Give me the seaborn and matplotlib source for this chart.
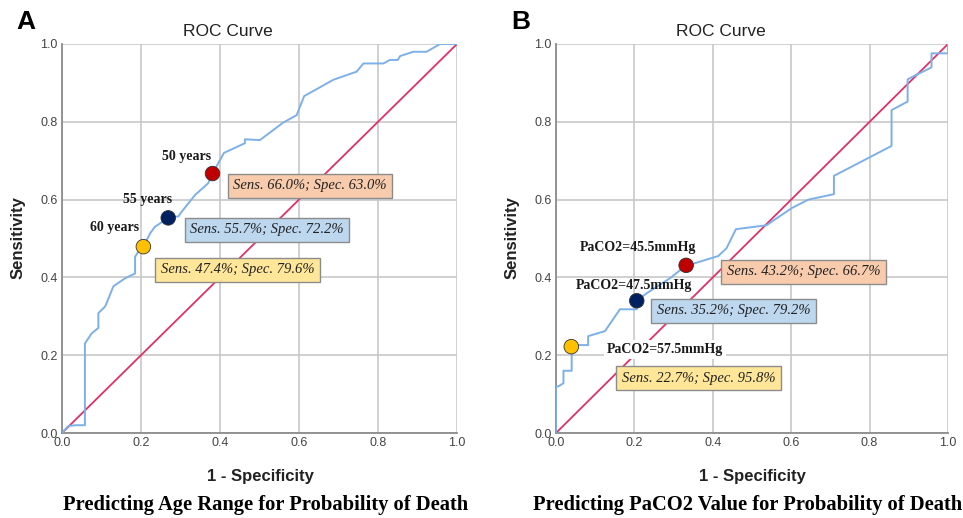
import numpy as np
import pandas as pd
import matplotlib
matplotlib.use("Agg")
import matplotlib.pyplot as plt
import seaborn as sns

# ---- data ----
age_fpr = [0.0, 0.016, 0.033, 0.058, 0.058, 0.075, 0.092, 0.092, 0.109, 0.113, 0.13, 0.16, 0.185,
           0.185, 0.193, 0.206, 0.223, 0.235, 0.269, 0.295, 0.30, 0.337, 0.37, 0.381, 0.41, 0.463,
           0.463, 0.501, 0.56, 0.594, 0.613, 0.687, 0.746, 0.763, 0.814, 0.83, 0.85, 0.856, 0.889,
           0.923, 0.957, 1.0]
age_tpr = [0.0, 0.018, 0.02, 0.02, 0.23, 0.256, 0.27, 0.308, 0.325, 0.334, 0.377, 0.398, 0.41,
           0.453, 0.466, 0.479, 0.513, 0.53, 0.553, 0.557, 0.565, 0.612, 0.642, 0.667, 0.72, 0.745,
           0.755, 0.753, 0.798, 0.817, 0.866, 0.908, 0.929, 0.95, 0.95, 0.959, 0.959, 0.969, 0.98,
           0.98, 1.0, 1.0]

pco2_fpr = [0.0, 0.0, 0.006, 0.019, 0.019, 0.031, 0.04, 0.04, 0.048, 0.082, 0.082, 0.125, 0.163,
            0.206, 0.206, 0.231, 0.291, 0.332, 0.359, 0.414, 0.435, 0.459, 0.537, 0.601, 0.644,
            0.709, 0.709, 0.856, 0.856, 0.897, 0.897, 0.912, 0.958, 0.958, 1.0, 1.0]
pco2_tpr = [0.0, 0.119, 0.12, 0.128, 0.16, 0.16, 0.16, 0.222, 0.226, 0.226, 0.249, 0.262, 0.318,
            0.318, 0.34, 0.359, 0.398, 0.431, 0.438, 0.455, 0.475, 0.524, 0.534, 0.578, 0.60,
            0.614, 0.661, 0.738, 0.83, 0.852, 0.909, 0.917, 0.94, 0.976, 0.976, 1.0]

age_cut_labels = ["50 years", "55 years", "60 years"]
age_cut_fpr = [0.381, 0.269, 0.206]
age_cut_tpr = [0.667, 0.553, 0.479]
age_box_text = ["Sens. 66.0%; Spec. 63.0%", "Sens. 55.7%; Spec. 72.2%", "Sens. 47.4%; Spec. 79.6%"]

pco2_cut_labels = ["PaCO2=45.5mmHg", "PaCO2=47.5mmHg", "PaCO2=57.5mmHg"]
pco2_cut_fpr = [0.332, 0.206, 0.039]
pco2_cut_tpr = [0.431, 0.34, 0.222]
pco2_box_text = ["Sens. 43.2%; Spec. 66.7%", "Sens. 35.2%; Spec. 79.2%", "Sens. 22.7%; Spec. 95.8%"]

ticks = [0.0, 0.2, 0.4, 0.6, 0.8, 1.0]
tick_labels = ["0.0", "0.2", "0.4", "0.6", "0.8", "1.0"]

# ---- style ----
sns.set_theme(style="whitegrid")
plt.rcParams['font.family'] = ['Liberation Sans', 'DejaVu Sans']

W, H = 963, 518
fig = plt.figure(figsize=(W / 100, H / 100), dpi=100)
fig.patch.set_facecolor("white")

def px(x, y):
    return x / W, 1 - y / H

dot_colors = ["#C00000", "#002060", "#FFC000"]
box_colors = ["#F8CBAD", "#BDD7EE", "#FFE699"]
curve_color = "#7DB0E8"
diag_color = "#E0306A"

def make_panel(left_px, right_px, fpr, tpr, cut_fpr, cut_tpr, cut_labels, label_pos,
               box_text, box_pos, label_bg):
    l, b = px(left_px, 433)
    r, t = px(right_px, 44)
    ax = fig.add_axes([l, b, r - l, t - b])
    ax.set_facecolor("white")
    df = pd.DataFrame({"fpr": fpr, "tpr": tpr})
    sns.lineplot(data=df, x="fpr", y="tpr", sort=False, estimator=None,
                 color=curve_color, lw=1.4, ax=ax, zorder=3)
    dg = pd.DataFrame({"x": [0.0, 1.0], "y": [0.0, 1.0]})
    sns.lineplot(data=dg, x="x", y="y", color=diag_color, lw=1.3, ax=ax, zorder=2)
    dd = pd.DataFrame({"x": cut_fpr, "y": cut_tpr, "c": cut_labels})
    sns.scatterplot(data=dd, x="x", y="y", hue="c", palette=dot_colors, s=110,
                    edgecolor="#333333", linewidth=0.6, ax=ax, zorder=7, legend=False)
    ax.set_xlim(0, 1)
    ax.set_ylim(0, 1)
    ax.set_xticks(ticks)
    ax.set_yticks(ticks)
    ax.set_xticklabels(tick_labels)
    ax.set_yticklabels(tick_labels)
    ax.tick_params(axis="both", labelsize=9, colors="#444444", length=0, pad=3)
    ax.grid(True, color="#C8C8C8", lw=1.2)
    ax.set_xlabel("")
    ax.set_ylabel("")
    for s in ["top", "right"]:
        ax.spines[s].set_visible(False)
    for s in ["left", "bottom"]:
        ax.spines[s].set_color("#8C8C8C")
        ax.spines[s].set_linewidth(1.3)
    for i in range(3):
        kw = {}
        if label_bg[i]:
            kw["bbox"] = dict(boxstyle="square,pad=0.2", fc="white", ec="none")
        ax.text(label_pos[i][0], label_pos[i][1], cut_labels[i], ha="center", va="center",
                family=["Liberation Serif"], fontweight="bold", fontsize=10,
                color="#1a1a1a", zorder=6, **kw)
        ax.text(box_pos[i][0], box_pos[i][1], box_text[i], ha="center", va="center",
                family=["Liberation Serif"], style="italic", fontsize=10.5, color="#222222",
                zorder=6,
                bbox=dict(boxstyle="square,pad=0.38", fc=box_colors[i], ec="#8C8C8C", lw=1.0))
    return ax

make_panel(62, 457, age_fpr, age_tpr, age_cut_fpr, age_cut_tpr, age_cut_labels,
           [(0.316, 0.71), (0.216, 0.60), (0.134, 0.527)],
           age_box_text, [(0.628, 0.635), (0.519, 0.522), (0.444, 0.42)],
           [False, False, False])
make_panel(556, 948, pco2_fpr, pco2_tpr, pco2_cut_fpr, pco2_cut_tpr, pco2_cut_labels,
           [(0.209, 0.478), (0.20, 0.378), (0.278, 0.215)],
           pco2_box_text, [(0.631, 0.414), (0.453, 0.314), (0.3635, 0.141)],
           [False, False, True])

# ---- text ----
for cx, letter in [(26, "A"), (521, "B")]:
    fig.text(*px(cx, 22), letter, ha="center", va="center", fontsize=19, fontweight="bold",
             color="black")
for cx in [228, 721]:
    fig.text(*px(cx, 32), "ROC Curve", ha="center", va="center", fontsize=12.5, color="#222222")
for cx in [18.5, 512]:
    fig.text(*px(cx, 238), "Sensitivity", ha="center", va="center", rotation=90,
             fontsize=12, fontweight="bold", color="#222222")
for cx in [260, 752.5]:
    fig.text(*px(cx, 477), "1 - Specificity", ha="center", va="center",
             fontsize=12, fontweight="bold", color="#222222")
fig.text(*px(265.5, 505), "Predicting Age Range for Probability of Death", ha="center",
         va="center", family=["Liberation Serif"], fontsize=14.8, fontweight="bold", color="black")
fig.text(*px(747.5, 505), "Predicting PaCO2 Value for Probability of Death", ha="center",
         va="center", family=["Liberation Serif"], fontsize=14.8, fontweight="bold", color="black")

fig.savefig("out.png", dpi=100, facecolor="white")
